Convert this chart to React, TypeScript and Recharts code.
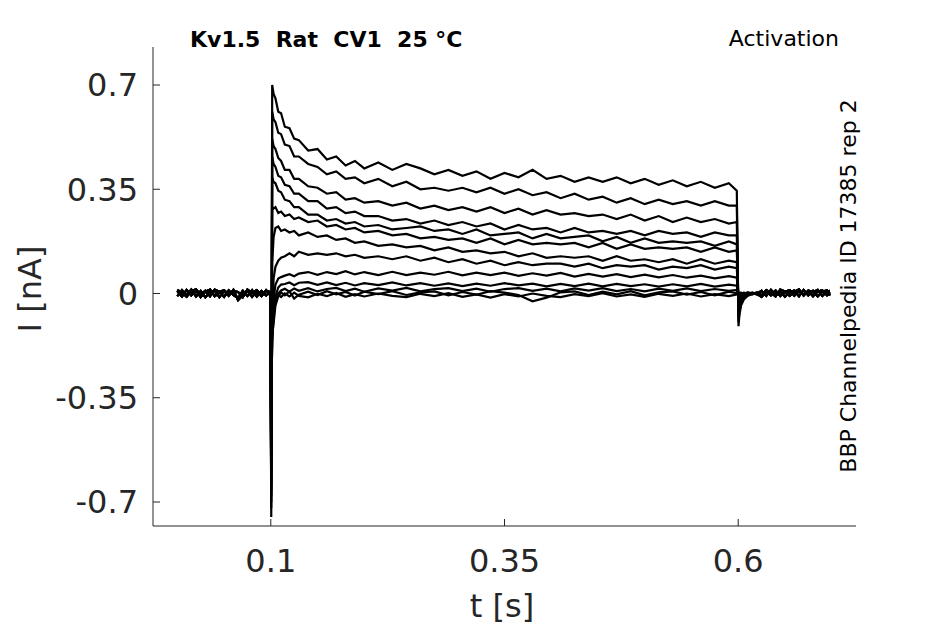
import React from 'react'
import { LineChart, Line, XAxis, YAxis } from 'recharts'

// time grids (s)
const preT = [0, 0.005, 0.01, 0.015, 0.02, 0.025, 0.03, 0.035, 0.04, 0.045, 0.05, 0.055, 0.06, 0.065, 0.07, 0.075, 0.08, 0.085, 0.09, 0.095, 0.0995]
const pulseT = [
  0.1005, 0.1015, 0.103, 0.105, 0.108, 0.111, 0.115, 0.12, 0.125, 0.13, 0.14,
  0.15, 0.16, 0.17, 0.18, 0.19, 0.2, 0.215, 0.23, 0.245, 0.26, 0.275,
  0.29, 0.305, 0.32, 0.335, 0.35, 0.365, 0.38, 0.395, 0.41, 0.425, 0.44,
  0.455, 0.47, 0.485, 0.5, 0.515, 0.53, 0.545, 0.56, 0.575, 0.59, 0.5985,
]
const tailT = [0.6003, 0.6012, 0.603, 0.606, 0.61, 0.615, 0.62]
const postT = [0.625, 0.63, 0.635, 0.64, 0.645, 0.65, 0.655, 0.66, 0.665, 0.67, 0.675, 0.68, 0.685, 0.69, 0.695, 0.698]

// holding baseline (nA), three recordings
const basePreA = [0.008, -0.01, 0.012, -0.006, 0.01, -0.012, 0.006, 0.013, -0.009, 0.004, -0.011, 0.01, -0.005, -0.016, 0.009, -0.008, 0.011, -0.01, 0.008, -0.006, 0.004]
const basePreB = [-0.009, 0.011, -0.005, 0.013, -0.01, 0.008, -0.013, 0.005, 0.01, -0.012, 0.009, -0.008, 0.012, -0.022, -0.006, 0.01, -0.011, 0.006, -0.009, 0.011, -0.004]
const basePreC = [0.012, 0.003, -0.011, 0.008, 0.014, -0.004, 0.009, -0.009, 0.013, 0.006, 0.011, -0.003, 0.008, 0.005, -0.012, 0.013, 0.002, 0.011, -0.007, 0.009, 0.005]
const basePostA = [-0.011, 0.007, -0.006, 0.01, -0.008, 0.006, 0.011, -0.007, 0.009, -0.004, 0.008, -0.009, 0.007, 0.01, -0.006, 0.004]
const basePostB = [0.009, -0.008, 0.012, -0.004, 0.007, -0.011, 0.004, 0.01, -0.009, 0.012, -0.006, 0.009, -0.01, 0.006, 0.011, -0.007]
const basePostC = [-0.006, 0.011, 0.003, -0.01, 0.013, 0.007, -0.008, 0.005, 0.014, -0.007, 0.01, 0.004, 0.012, -0.008, 0.007, 0.009]

// currents during the step (nA)
const pulse1 = [
  -0.75, 0.7, 0.67, 0.655, 0.61, 0.605, 0.56, 0.555, 0.52, 0.515, 0.48,
  0.485, 0.45, 0.46, 0.43, 0.445, 0.42, 0.44, 0.415, 0.435, 0.42, 0.4,
  0.415, 0.395, 0.41, 0.385, 0.405, 0.39, 0.415, 0.385, 0.395, 0.375, 0.39,
  0.375, 0.39, 0.37, 0.385, 0.365, 0.38, 0.36, 0.375, 0.355, 0.37, 0.345,
]
const pulse2 = [
  -0.72, 0.61, 0.585, 0.575, 0.54, 0.535, 0.5, 0.495, 0.46, 0.46, 0.435,
  0.425, 0.4, 0.41, 0.385, 0.39, 0.37, 0.385, 0.36, 0.375, 0.35, 0.355,
  0.345, 0.355, 0.34, 0.355, 0.335, 0.35, 0.33, 0.34, 0.32, 0.335, 0.315,
  0.325, 0.305, 0.32, 0.3, 0.315, 0.3, 0.31, 0.295, 0.31, 0.295, 0.295,
]
const pulse3 = [
  -0.7, 0.52, 0.495, 0.485, 0.455, 0.445, 0.415, 0.415, 0.385, 0.385, 0.36,
  0.355, 0.335, 0.34, 0.315, 0.32, 0.305, 0.31, 0.295, 0.305, 0.285, 0.295,
  0.28, 0.29, 0.275, 0.29, 0.27, 0.285, 0.265, 0.28, 0.265, 0.27, 0.26,
  0.265, 0.25, 0.265, 0.245, 0.26, 0.24, 0.255, 0.24, 0.25, 0.235, 0.24,
]
const pulse4 = [
  -0.68, 0.46, 0.435, 0.425, 0.395, 0.39, 0.365, 0.36, 0.335, 0.335, 0.31,
  0.31, 0.285, 0.29, 0.27, 0.275, 0.26, 0.26, 0.245, 0.25, 0.235, 0.245,
  0.23, 0.24, 0.225, 0.235, 0.215, 0.23, 0.215, 0.22, 0.205, 0.22, 0.205,
  0.21, 0.2, 0.21, 0.195, 0.21, 0.2, 0.205, 0.19, 0.205, 0.195, 0.195,
]
const pulse5 = [
  -0.66, 0.39, 0.375, 0.37, 0.345, 0.34, 0.315, 0.31, 0.29, 0.29, 0.265,
  0.265, 0.245, 0.25, 0.235, 0.24, 0.225, 0.23, 0.215, 0.22, 0.225, 0.21,
  0.215, 0.2, 0.215, 0.195, 0.2, 0.205, 0.185, 0.2, 0.185, 0.19, 0.195,
  0.175, 0.19, 0.17, 0.185, 0.17, 0.175, 0.17, 0.175, 0.16, 0.175, 0.165,
]
const pulse6 = [
  -0.63, 0.29, 0.285, 0.29, 0.27, 0.275, 0.26, 0.265, 0.25, 0.255, 0.24,
  0.245, 0.225, 0.23, 0.215, 0.22, 0.205, 0.21, 0.195, 0.2, 0.185, 0.19,
  0.18, 0.185, 0.17, 0.185, 0.165, 0.18, 0.165, 0.17, 0.165, 0.17, 0.155,
  0.17, 0.15, 0.165, 0.15, 0.155, 0.15, 0.155, 0.14, 0.155, 0.14, 0.145,
]
const pulse7 = [
  -0.6, 0.1, 0.19, 0.22, 0.225, 0.21, 0.215, 0.205, 0.21, 0.195, 0.205,
  0.19, 0.195, 0.18, 0.185, 0.17, 0.175, 0.16, 0.165, 0.155, 0.16, 0.145,
  0.155, 0.14, 0.145, 0.135, 0.14, 0.125, 0.135, 0.12, 0.125, 0.12, 0.125,
  0.11, 0.125, 0.11, 0.115, 0.105, 0.115, 0.1, 0.115, 0.1, 0.11, 0.105,
]
const pulse8 = [
  -0.5, -0.08, 0.05, 0.09, 0.11, 0.12, 0.125, 0.135, 0.125, 0.14, 0.13,
  0.135, 0.13, 0.135, 0.125, 0.13, 0.12, 0.125, 0.115, 0.125, 0.11, 0.12,
  0.105, 0.115, 0.1, 0.11, 0.095, 0.105, 0.095, 0.1, 0.1, 0.09, 0.1,
  0.085, 0.095, 0.09, 0.095, 0.08, 0.09, 0.085, 0.095, 0.08, 0.09, 0.085,
]
const pulse9 = [
  -0.45, -0.12, -0.02, 0.03, 0.05, 0.055, 0.06, 0.065, 0.058, 0.067, 0.072,
  0.063, 0.072, 0.065, 0.075, 0.064, 0.072, 0.062, 0.073, 0.062, 0.07, 0.063,
  0.073, 0.061, 0.07, 0.062, 0.07, 0.059, 0.068, 0.06, 0.069, 0.057, 0.066,
  0.057, 0.065, 0.055, 0.063, 0.054, 0.062, 0.053, 0.06, 0.051, 0.058, 0.053,
]
const pulse10 = [
  -0.4, -0.15, -0.06, -0.01, 0.02, 0.03, 0.032, 0.037, 0.028, 0.036, 0.038,
  0.029, 0.037, 0.028, 0.036, 0.027, 0.035, 0.028, 0.037, 0.027, 0.035, 0.026,
  0.034, 0.025, 0.033, 0.026, 0.035, 0.027, 0.033, 0.024, 0.032, 0.025, 0.033,
  0.024, 0.032, 0.025, 0.031, 0.023, 0.031, 0.024, 0.032, 0.023, 0.03, 0.026,
]
const pulse11 = [
  -0.35, -0.16, -0.08, -0.03, 0, 0.01, 0.016, 0.006, 0.017, 0.009, 0.018,
  0.007, 0.015, 0.019, 0.008, 0.016, 0.006, 0.017, 0.01, 0.019, 0.007, 0.015,
  0.018, 0.008, 0.016, 0.006, 0.015, 0.018, 0.009, 0.016, 0.007, 0.017, 0.01,
  0.018, 0.008, 0.015, 0.007, 0.016, 0.009, 0.017, 0.008, 0.015, 0.009, 0.012,
]
const pulse12 = [
  -0.3, -0.14, -0.1, -0.04, -0.01, 0.004, -0.006, 0.007, -0.017, -0.004, 0.006,
  -0.005, 0.008, -0.003, 0.005, -0.007, 0.006, -0.002, 0.008, -0.005, 0.004, 0.007,
  -0.006, 0.005, -0.004, 0.008, 0.003, -0.005, -0.026, -0.014, 0.004, 0.007, -0.005,
  0.006, -0.003, 0.008, -0.006, 0.004, 0.007, -0.004, 0.005, -0.006, 0.006, 0.001,
]
const pulse13 = [
  -0.25, -0.1, -0.06, -0.02, -0.004, -0.012, 0, -0.01, 0.003, -0.008, -0.013,
  -0.001, -0.009, 0.002, -0.011, -0.002, -0.01, 0, -0.008, -0.012, -0.001, -0.009,
  0.001, -0.011, -0.003, -0.014, -0.002, -0.01, 0, -0.008, -0.012, -0.002, -0.009,
  0.001, -0.01, -0.003, -0.011, -0.001, -0.008, 0, -0.01, -0.002, -0.009, -0.003,
]

// tail currents after the step ends (nA)
const tail1 = [-0.11, -0.075, -0.04, -0.02, -0.008, -0.002, 0.003]
const tail2 = [-0.095, -0.065, -0.035, -0.017, -0.006, 0.001, -0.002]
const tail3 = [-0.08, -0.055, -0.03, -0.014, -0.005, 0.002, 0]
const tail4 = [-0.065, -0.045, -0.025, -0.012, -0.004, -0.001, 0.002]
const tail5 = [-0.055, -0.04, -0.02, -0.01, -0.003, 0.002, -0.001]
const tail6 = [-0.045, -0.032, -0.017, -0.008, -0.002, 0, 0.003]
const tail7 = [-0.035, -0.025, -0.013, -0.006, 0, -0.003, 0.001]
const tail8 = [-0.025, -0.018, -0.009, -0.004, 0.002, 0, -0.002]
const tail9 = [-0.015, -0.01, -0.005, 0, -0.002, 0.003, 0]
const tail10 = [-0.01, -0.006, -0.002, 0.002, -0.001, 0.002, -0.003]
const tail11 = [-0.005, -0.002, 0.003, -0.002, 0.004, 0, 0.002]
const tail12 = [-0.003, 0.002, -0.003, 0.003, 0, -0.002, 0.003]
const tail13 = [0.002, -0.003, 0.001, -0.002, 0.003, 0.001, -0.003]

const pulses = [pulse1, pulse2, pulse3, pulse4, pulse5, pulse6, pulse7, pulse8, pulse9, pulse10, pulse11, pulse12, pulse13]
const tails = [tail1, tail2, tail3, tail4, tail5, tail6, tail7, tail8, tail9, tail10, tail11, tail12, tail13]
const basePre = [basePreA, basePreB, basePreC]
const basePost = [basePostA, basePostB, basePostC]

const xTicks = [0.1, 0.35, 0.6]
const yTicks = [-0.7, -0.35, 0, 0.35, 0.7]

const allT = [...preT, ...pulseT, ...tailT, ...postT]
const traces = pulses.map((p, i) => {
  const v = [...basePre[i % 3], ...p, ...tails[i], ...basePost[i % 3]]
  return allT.map((t, k) => ({ t, v: v[k] }))
})

const font = 'DejaVu Sans, sans-serif'
const ink = '#262626'

export default function App() {
  return (
    <div style={{ position: 'absolute', left: 0, top: 0, width: 945, height: 624, background: '#fff' }}>
      <LineChart width={945} height={624} margin={{ top: 47, right: 89, bottom: 58, left: 93 }}>
        <XAxis
          dataKey="t"
          type="number"
          domain={[-0.026, 0.726]}
          ticks={xTicks}
          allowDataOverflow
          stroke={ink}
          tickSize={-7}
          tickMargin={30}
          height={40}
          tick={{ fontSize: 32, fill: ink, fontFamily: font }}
        />
        <YAxis
          type="number"
          domain={[-0.7806, 0.8276]}
          ticks={yTicks}
          allowDataOverflow
          stroke={ink}
          tickSize={-7}
          tickMargin={22}
          width={60}
          tick={{ fontSize: 32, fill: ink, fontFamily: font }}
        />
        {traces.map((d, i) => (
          <Line
            key={i}
            data={d}
            dataKey="v"
            type="linear"
            stroke="#000"
            strokeWidth={2.2}
            dot={false}
            activeDot={false}
            isAnimationActive={false}
          />
        ))}
      </LineChart>
      <svg width={945} height={624} style={{ position: 'absolute', left: 0, top: 0, pointerEvents: 'none' }}>
        <text x={190} y={47} fontFamily={font} fontWeight="bold" fontSize={22} fill="#000" style={{ whiteSpace: 'pre' }}>
          {'Kv1.5  Rat  CV1  25 °C'}
        </text>
        <text x={839} y={46} textAnchor="end" fontFamily={font} fontSize={22} fill="#000">Activation</text>
        <text x={856} y={286} textAnchor="middle" fontFamily={font} fontSize={22} fill="#000" transform="rotate(-90 856 286)">
          BBP Channelpedia ID 17385 rep 2
        </text>
        <text x={502} y={617} textAnchor="middle" fontFamily={font} fontSize={32} fill={ink}>t [s]</text>
        <text x={41} y={289} textAnchor="middle" fontFamily={font} fontSize={32} fill={ink} transform="rotate(-90 41 289)">
          I [nA]
        </text>
      </svg>
    </div>
  )
}
